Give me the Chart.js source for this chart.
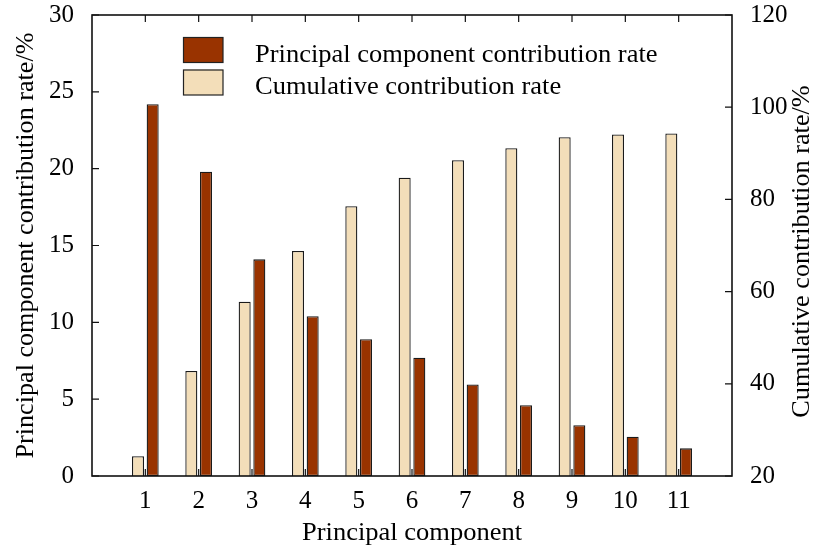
<!DOCTYPE html>
<html>
<head>
<meta charset="utf-8">
<script src="https://cdn.jsdelivr.net/npm/chart.js@4"></script>
<style>
  html, body { margin: 0; padding: 0; background: #fff; }
  canvas { display: block; }
</style>
</head>
<body>
<canvas id="pcaChart" width="815" height="551"></canvas>
<script>
const categories = ['1', '2', '3', '4', '5', '6', '7', '8', '9', '10', '11'];
const principalRate = [24.2, 19.8, 14.1, 10.4, 8.9, 7.7, 5.95, 4.6, 3.3, 2.55, 1.8];
const cumulativeRate = [24.3, 42.8, 57.8, 68.8, 78.5, 84.7, 88.5, 91.1, 93.5, 94.1, 94.3];
const leftTicks = [0, 5, 10, 15, 20, 25, 30];
const rightTicks = [20, 40, 60, 80, 100, 120];

const FONT = 'Liberation Serif, Times New Roman, serif';
const DARK = '#993300';
const WHEAT = '#f3deb9';

// pad one empty slot at each end so the axis runs 0..12
const labels = ['', ...categories, ''];
const pad = arr => [null, ...arr, null];

// text in the original is a little wider than Times at this height
function wideText(ctx, text, x, y, rot, sx) {
    ctx.save();
    ctx.translate(x, y);
    if (rot) ctx.rotate(rot);
    ctx.scale(sx, 1);
    ctx.fillText(text, 0, 0);
    ctx.restore();
}

const frame = {
    id: 'frame',
    afterDatasetsDraw(chart) {
        const ctx = chart.ctx;
        const {left, right, top, bottom} = chart.chartArea;
        const x = chart.scales.x, y = chart.scales.y, y1 = chart.scales.y1;
        const tl = 7;
        ctx.save();
        ctx.strokeStyle = '#111';
        ctx.lineWidth = 1.2;
        ctx.beginPath();
        for (let i = 1; i <= categories.length; i++) {
            const px = x.getPixelForTick(i);
            ctx.moveTo(px, top); ctx.lineTo(px, top + tl);
            ctx.moveTo(px, bottom); ctx.lineTo(px, bottom - tl);
        }
        for (const v of leftTicks) {
            const py = y.getPixelForValue(v);
            ctx.moveTo(left, py); ctx.lineTo(left + tl, py);
        }
        for (const v of rightTicks) {
            const py = y1.getPixelForValue(v);
            ctx.moveTo(right, py); ctx.lineTo(right - tl, py);
        }
        ctx.stroke();
        ctx.lineWidth = 1.6;
        ctx.strokeRect(left, top, right - left, bottom - top);

        // titles
        ctx.fillStyle = '#000';
        ctx.font = '25px ' + FONT;
        ctx.textAlign = 'center';
        ctx.textBaseline = 'middle';
        wideText(ctx, 'Principal component', (left + right) / 2, 533, 0, 1.06);
        wideText(ctx, 'Principal component contribution rate/%', 26, (top + bottom) / 2, -Math.PI / 2, 1.045);
        wideText(ctx, 'Cumulative contribution rate/%', 802, (top + bottom) / 2 + 6, -Math.PI / 2, 1.05);

        // legend, principal first
        const order = [1, 0];
        ctx.textAlign = 'left';
        ctx.textBaseline = 'alphabetic';
        order.forEach((di, row) => {
            const ds = chart.data.datasets[di];
            const by = 37 + row * 32.5;
            ctx.fillStyle = ds.backgroundColor;
            ctx.fillRect(183, by, 40, 25.5);
            ctx.lineWidth = 1.2;
            ctx.strokeStyle = '#222';
            ctx.strokeRect(183.5, by + 0.5, 39.5, 25);
            ctx.fillStyle = '#000';
            wideText(ctx, ds.label, 255, by + 24.5, 0, 1.06);
        });
        ctx.restore();
    }
};

const noPad = s => { s.paddingTop = 0; s.paddingBottom = 0; };

new Chart(document.getElementById('pcaChart'), {
    type: 'bar',
    data: {
        labels,
        datasets: [
            {
                label: 'Cumulative contribution rate',
                data: pad(cumulativeRate),
                yAxisID: 'y1',
                backgroundColor: WHEAT,
                borderColor: '#1a1a1a',
                borderWidth: 1.3,
                borderSkipped: false,
                categoryPercentage: 0.55,
                barPercentage: 0.82
            },
            {
                label: 'Principal component contribution rate',
                data: pad(principalRate),
                yAxisID: 'y',
                backgroundColor: DARK,
                borderColor: '#1a1a1a',
                borderWidth: 1.3,
                borderSkipped: false,
                categoryPercentage: 0.55,
                barPercentage: 0.82
            }
        ]
    },
    options: {
        responsive: false,
        animation: false,
        devicePixelRatio: 1,
        layout: { padding: { top: 15 } },
        plugins: {
            legend: { display: false },
            tooltip: { enabled: false }
        },
        scales: {
            x: {
                offset: false,
                grid: { display: false },
                border: { display: false },
                ticks: {
                    autoSkip: false,
                    maxRotation: 0,
                    padding: 2,
                    color: '#000',
                    font: { family: FONT, size: 25 }
                },
                afterFit: s => { s.height = 75; s.paddingLeft = 0; s.paddingRight = 0; }
            },
            y: {
                position: 'left',
                min: 0,
                max: 30,
                grid: { display: false },
                border: { display: false },
                ticks: {
                    stepSize: 5,
                    padding: 10,
                    color: '#000',
                    font: { family: FONT, size: 25 }
                },
                afterFit: s => { s.width = 92; noPad(s); }
            },
            y1: {
                position: 'right',
                min: 20,
                max: 120,
                grid: { display: false },
                border: { display: false },
                ticks: {
                    stepSize: 20,
                    padding: 10,
                    color: '#000',
                    font: { family: FONT, size: 25 }
                },
                afterFit: s => { s.width = 83; noPad(s); }
            }
        }
    },
    plugins: [frame]
});
</script>
</body>
</html>
